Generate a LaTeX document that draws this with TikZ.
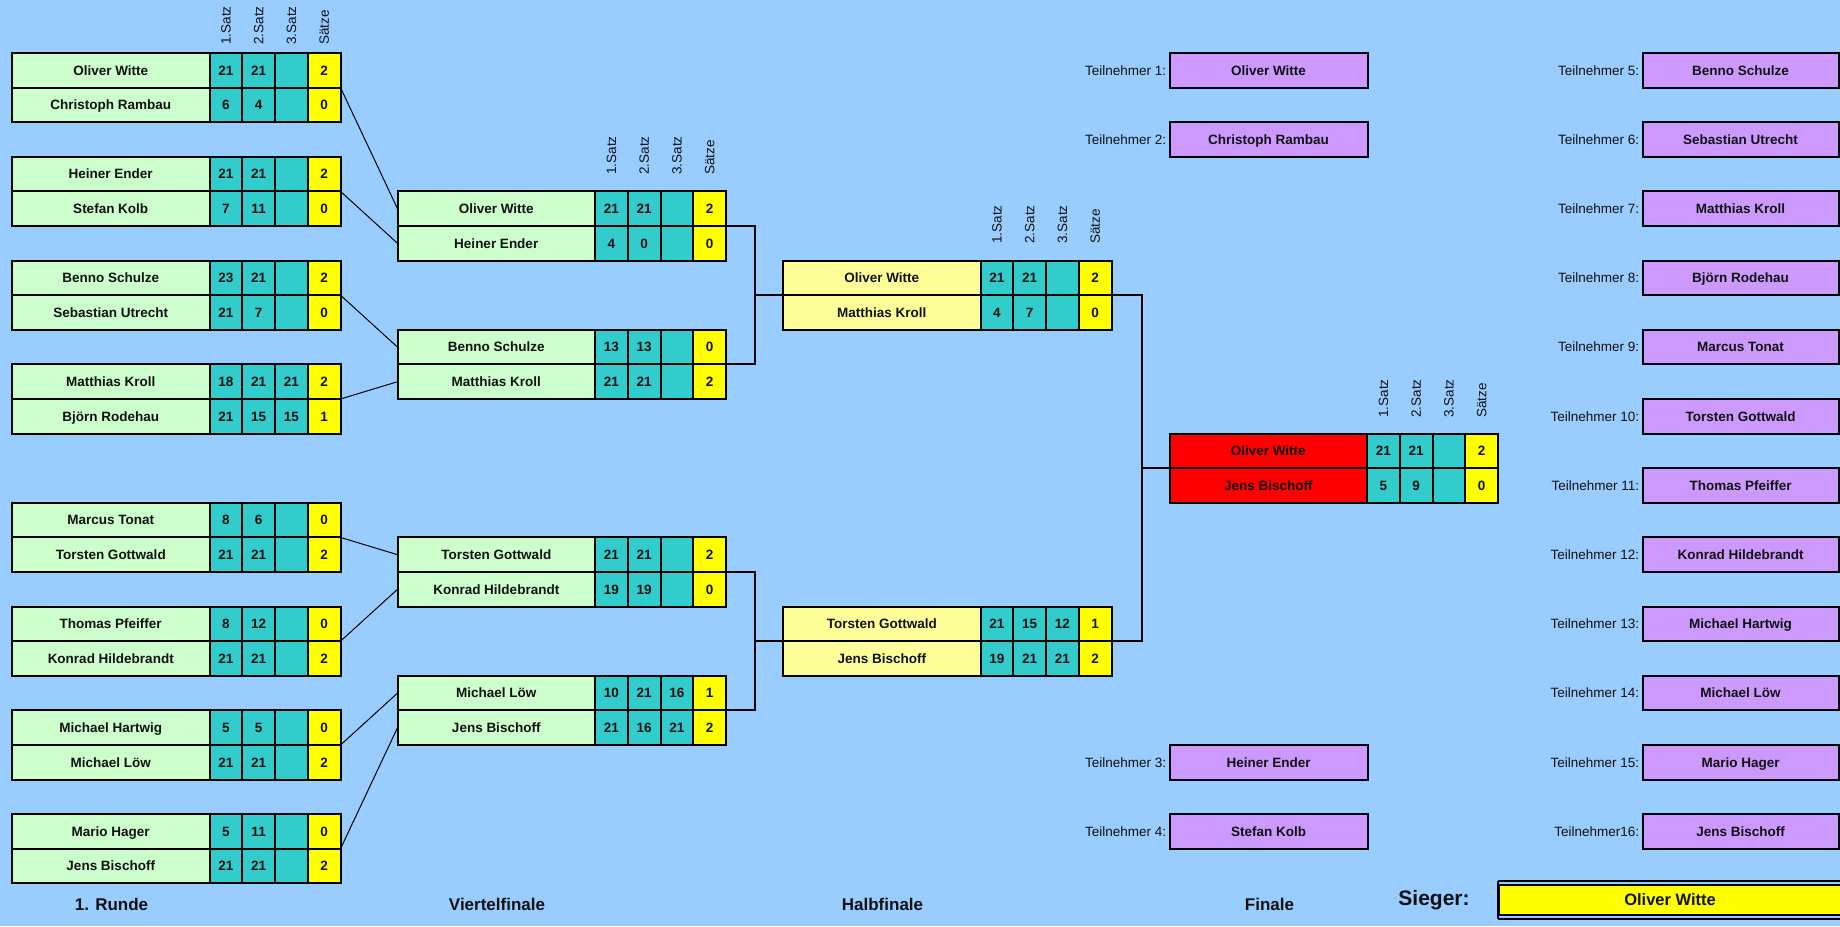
\documentclass[tikz,border=0pt]{standalone}
\usepackage{fontspec}
\setmainfont{Liberation Sans}
\usetikzlibrary{calc}
\definecolor{bg}{HTML}{99CCFF}
\definecolor{namegreen}{HTML}{CCFFCC}
\definecolor{scoreteal}{HTML}{33CCCC}
\definecolor{setyellow}{HTML}{FFFF00}
\definecolor{sfyellow}{HTML}{FFFF99}
\definecolor{finalred}{HTML}{FF0000}
\definecolor{tlila}{HTML}{CC99FF}
\definecolor{ink}{HTML}{111111}
\tikzset{
  cellbox/.style={draw=black, line width=1pt, inner sep=0pt, outer sep=0pt,
    minimum height=17.3pt, anchor=north west, text=ink,
    text height=4.85pt, text depth=0pt,
    font=\fontsize{6.75pt}{8pt}\selectfont\bfseries},
  namecell/.style={cellbox, minimum width=98.75pt},
  scorecell/.style={cellbox, minimum width=16.375pt, fill=scoreteal},
  setcell/.style={cellbox, minimum width=16.375pt, fill=setyellow},
  hdrlab/.style={rotate=90, anchor=west, inner sep=0pt, text=ink,
    font=\fontsize{6.75pt}{8pt}\selectfont},
  feeder/.style={draw=black, line width=0.5pt},
  bracket/.style={draw=black, line width=1pt},
  roundlab/.style={inner sep=0pt, text=ink, font=\fontsize{8.5pt}{10pt}\selectfont\bfseries},
  tbox/.style={cellbox, fill=tlila, minimum width=99pt, minimum height=17.3pt},
  tlab/.style={inner sep=0pt, anchor=east, text=ink, text height=4.85pt, text depth=0pt,
    font=\fontsize{6.75pt}{8pt}\selectfont},
}
% player row: id, x0, row, fill, name, s1, s2, s3, sets
\newcommand\prow[9]{%
  \pgfmathsetmacro\py{53+34.6*#3}%
  \pgfmathsetmacro\pxa{#2+197.5}%
  \pgfmathsetmacro\pxb{#2+197.5+32.75}%
  \pgfmathsetmacro\pxc{#2+197.5+65.5}%
  \pgfmathsetmacro\pxd{#2+197.5+98.25}%
  \node[namecell, fill=#4] (#1-n) at (#2,\py) {#5};
  \node[scorecell] (#1-a) at (\pxa,\py) {#6};
  \node[scorecell] (#1-b) at (\pxb,\py) {#7};
  \node[scorecell] (#1-c) at (\pxc,\py) {#8};
  \node[setcell] (#1-s) at (\pxd,\py) {#9};
}
% headers: id, x0, baseline y
\newcommand\hdrs[3]{%
  \foreach \t [count=\k from 0] in {1.Satz,2.Satz,3.Satz,Sätze}{%
    \pgfmathsetmacro\hx{#2+197.5+32.75*(\k+0.5)}%
    \node[hdrlab] (#1-h\k) at (\hx,#3) {\t};
  }%
}
\begin{document}
\begin{tikzpicture}[x=0.5pt,y=-0.5pt]
\fill[bg] (0,0) rectangle (1840,926);
\useasboundingbox (0,0) rectangle (1840,926);

% ---------- 1. Runde ----------
\hdrs{hr}{12}{45}
\prow{e1a}{12}{0}{namegreen}{Oliver Witte}{21}{21}{}{2}
\prow{e1b}{12}{1}{namegreen}{Christoph Rambau}{6}{4}{}{0}
\prow{e2a}{12}{3}{namegreen}{Heiner Ender}{21}{21}{}{2}
\prow{e2b}{12}{4}{namegreen}{Stefan Kolb}{7}{11}{}{0}
\prow{e3a}{12}{6}{namegreen}{Benno Schulze}{23}{21}{}{2}
\prow{e3b}{12}{7}{namegreen}{Sebastian Utrecht}{21}{7}{}{0}
\prow{e4a}{12}{9}{namegreen}{Matthias Kroll}{18}{21}{21}{2}
\prow{e4b}{12}{10}{namegreen}{Björn Rodehau}{21}{15}{15}{1}
\prow{e5a}{12}{13}{namegreen}{Marcus Tonat}{8}{6}{}{0}
\prow{e5b}{12}{14}{namegreen}{Torsten Gottwald}{21}{21}{}{2}
\prow{e6a}{12}{16}{namegreen}{Thomas Pfeiffer}{8}{12}{}{0}
\prow{e6b}{12}{17}{namegreen}{Konrad Hildebrandt}{21}{21}{}{2}
\prow{e7a}{12}{19}{namegreen}{Michael Hartwig}{5}{5}{}{0}
\prow{e7b}{12}{20}{namegreen}{Michael Löw}{21}{21}{}{2}
\prow{e8a}{12}{22}{namegreen}{Mario Hager}{5}{11}{}{0}
\prow{e8b}{12}{23}{namegreen}{Jens Bischoff}{21}{21}{}{2}

% ---------- Viertelfinale ----------
\hdrs{hq}{397.5}{175}
\prow{q1a}{397.5}{4}{namegreen}{Oliver Witte}{21}{21}{}{2}
\prow{q1b}{397.5}{5}{namegreen}{Heiner Ender}{4}{0}{}{0}
\prow{q2a}{397.5}{8}{namegreen}{Benno Schulze}{13}{13}{}{0}
\prow{q2b}{397.5}{9}{namegreen}{Matthias Kroll}{21}{21}{}{2}
\prow{q3a}{397.5}{14}{namegreen}{Torsten Gottwald}{21}{21}{}{2}
\prow{q3b}{397.5}{15}{namegreen}{Konrad Hildebrandt}{19}{19}{}{0}
\prow{q4a}{397.5}{18}{namegreen}{Michael Löw}{10}{21}{16}{1}
\prow{q4b}{397.5}{19}{namegreen}{Jens Bischoff}{21}{16}{21}{2}

% ---------- Halbfinale ----------
\hdrs{hh}{783}{244}
\prow{h1a}{783}{6}{sfyellow}{Oliver Witte}{21}{21}{}{2}
\prow{h1b}{783}{7}{sfyellow}{Matthias Kroll}{4}{7}{}{0}
\prow{h2a}{783}{16}{sfyellow}{Torsten Gottwald}{21}{15}{12}{1}
\prow{h2b}{783}{17}{sfyellow}{Jens Bischoff}{19}{21}{21}{2}

% ---------- Finale ----------
\hdrs{hf}{1169.5}{418}
\prow{fa}{1169.5}{11}{finalred}{Oliver Witte}{21}{21}{}{2}
\prow{fb}{1169.5}{12}{finalred}{Jens Bischoff}{5}{9}{}{0}

% ---------- feeder lines ----------
\draw[feeder] (e1a-s.south east) -- (q1a-n.west);
\draw[feeder] (e2a-s.south east) -- (q1b-n.west);
\draw[feeder] (e3a-s.south east) -- (q2a-n.west);
\draw[feeder] (e4a-s.south east) -- (q2b-n.west);
\draw[feeder] (e5a-s.south east) -- (q3a-n.west);
\draw[feeder] (e6a-s.south east) -- (q3b-n.west);
\draw[feeder] (e7a-s.south east) -- (q4a-n.west);
\draw[feeder] (e8a-s.south east) -- (q4b-n.west);

% ---------- brackets ----------
\draw[bracket] (q1a-s.south east) -- ++(29,0) |- (q2a-s.south east);
\draw[bracket] (h1a-n.south west) -- ++(-28,0);
\draw[bracket] (q3a-s.south east) -- ++(29,0) |- (q4a-s.south east);
\draw[bracket] (h2a-n.south west) -- ++(-28,0);
\draw[bracket] (h1a-s.south east) -- ++(30,0) |- (h2a-s.south east);
\draw[bracket] (fa-n.south west) -- ++(-28.5,0);

% ---------- Teilnehmer ----------
\foreach \r/\k/\lab/\nm in {0/1/Teilnehmer 1:/Oliver Witte,
    2/2/Teilnehmer 2:/Christoph Rambau,
    20/3/Teilnehmer 3:/Heiner Ender,
    22/4/Teilnehmer 4:/Stefan Kolb}{
  \pgfmathsetmacro\ty{53+34.6*\r}
  \node[tbox] (t\k) at (1169.5,\ty) {\nm};
  \node[tlab] (tl\k) at ($(t\k.west)+(-3,0)$) {\lab};
}
\foreach \r/\k/\lab/\nm in {0/5/Teilnehmer 5:/Benno Schulze,
    2/6/Teilnehmer 6:/Sebastian Utrecht,
    4/7/Teilnehmer 7:/Matthias Kroll,
    6/8/Teilnehmer 8:/Björn Rodehau,
    8/9/Teilnehmer 9:/Marcus Tonat,
    10/10/Teilnehmer 10:/Torsten Gottwald,
    12/11/Teilnehmer 11:/Thomas Pfeiffer,
    14/12/Teilnehmer 12:/Konrad Hildebrandt,
    16/13/Teilnehmer 13:/Michael Hartwig,
    18/14/Teilnehmer 14:/Michael Löw,
    20/15/Teilnehmer 15:/Mario Hager,
    22/16/Teilnehmer16:/Jens Bischoff}{
  \pgfmathsetmacro\ty{53+34.6*\r}
  \node[tbox, minimum width=98pt] (t\k) at (1642.5,\ty) {\nm};
  \node[tlab] (tl\k) at ($(t\k.west)+(-3,0)$) {\lab};
}

% ---------- round labels ----------
\node[roundlab] (lr1) at (111.5,904) {1. Runde};
\node[roundlab] (lqf) at (497,904) {Viertelfinale};
\node[roundlab] (lsf) at (882.5,904) {Halbfinale};
\node[roundlab] (lfi) at (1269.5,904) {Finale};
\node[inner sep=0pt, text=ink, font=\fontsize{10.5pt}{12pt}\selectfont\bfseries] (lsieger) at (1434,900) {Sieger:};

% ---------- Sieger box ----------
\node[cellbox, fill=setyellow, minimum width=171pt, minimum height=15pt,
      text height=5.9pt, text depth=0pt,
      font=\fontsize{8.25pt}{10pt}\selectfont\bfseries] (winner) at (1499,885) {Oliver Witte};
\draw[line width=0.6pt] ($(winner.north west)+(-1,-4)$) -- ($(winner.north east)+(2,-4)$);
\draw[line width=0.6pt] ($(winner.south west)+(-1,4)$) -- ($(winner.south east)+(2,4)$);
\draw[line width=0.6pt] ($(winner.north west)+(-1,-4)$) -- ($(winner.south west)+(-1,4)$);
\end{tikzpicture}
\end{document}
